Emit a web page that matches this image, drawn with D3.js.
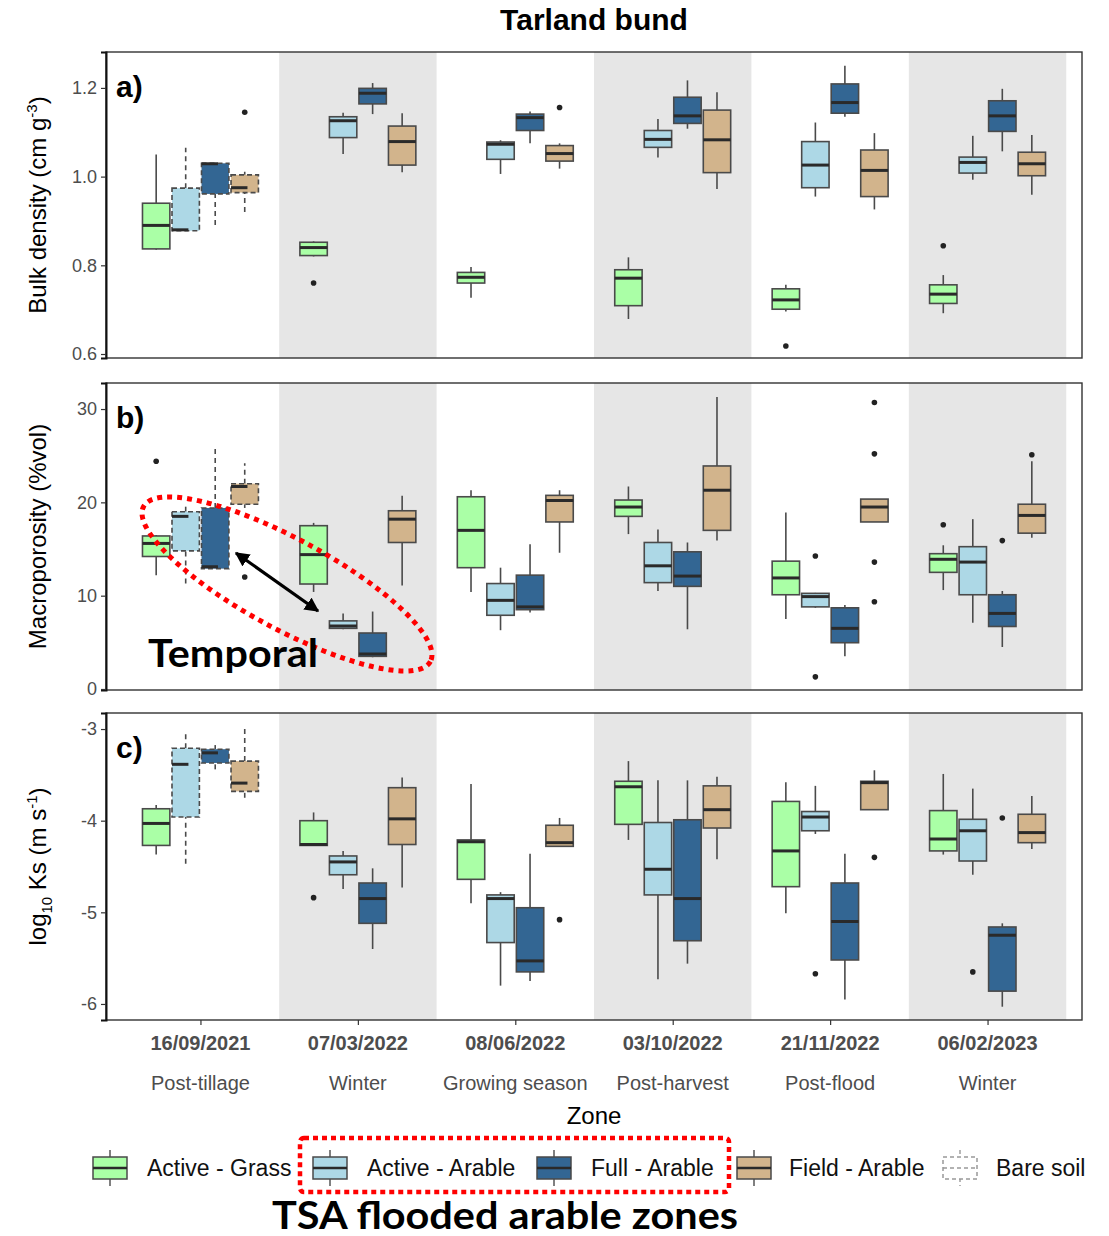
<!DOCTYPE html>
<html>
<head>
<meta charset="utf-8">
<script src="https://cdn.jsdelivr.net/npm/d3@7"></script>
<style>
  body { margin: 0; background: #fff; }
  text { font-family: "Liberation Sans", Arial, sans-serif; }
</style>
</head>
<body>
<svg id="chart"></svg>
<script>
const dates = ['16/09/2021', '07/03/2022', '08/06/2022', '03/10/2022', '21/11/2022', '06/02/2023'];
const seasons = ['Post-tillage', 'Winter', 'Growing season', 'Post-harvest', 'Post-flood', 'Winter'];
const zones = ['Active - Grass', 'Active - Arable', 'Full - Arable', 'Field - Arable'];
const zoneColors = ['#aaffa6', '#add8e6', '#336693', '#d2b48c'];
// [date, zone] samples taken on bare soil, drawn dashed
const bareSoil = [[0, 1], [0, 2], [0, 3]];

// per date, per zone: [lower whisker, Q1, median, Q3, upper whisker]
const bulkDensity = [
  [[0.835, 0.837, 0.890, 0.940, 1.050], [0.878, 0.878, 0.880, 0.974, 1.065], [0.891, 0.961, 1.029, 1.030, 1.030], [0.920, 0.964, 0.975, 1.004, 1.011]],
  [[0.820, 0.822, 0.840, 0.852, 0.854], [1.051, 1.088, 1.126, 1.135, 1.144], [1.141, 1.164, 1.188, 1.199, 1.211], [1.010, 1.026, 1.079, 1.114, 1.143]],
  [[0.727, 0.760, 0.773, 0.784, 0.796], [1.006, 1.039, 1.073, 1.078, 1.082], [1.075, 1.104, 1.133, 1.141, 1.147], [1.018, 1.035, 1.052, 1.070, 1.075]],
  [[0.679, 0.709, 0.771, 0.790, 0.818], [1.043, 1.066, 1.084, 1.104, 1.130], [1.108, 1.120, 1.137, 1.179, 1.217], [0.972, 1.009, 1.083, 1.150, 1.190]],
  [[0.696, 0.701, 0.722, 0.747, 0.756], [0.955, 0.975, 1.026, 1.079, 1.122], [1.135, 1.143, 1.167, 1.209, 1.250], [0.926, 0.955, 1.014, 1.060, 1.098]],
  [[0.692, 0.714, 0.735, 0.756, 0.778], [0.993, 1.008, 1.032, 1.044, 1.092], [1.057, 1.102, 1.137, 1.171, 1.198], [0.959, 1.002, 1.029, 1.055, 1.094]]
];
// [date, zone, value]
const bulkDensityOutliers = [[0, 3, 1.145], [1, 0, 0.760], [2, 3, 1.156], [4, 0, 0.618], [5, 0, 0.844]];

const macroporosity = [
  [[12.2, 14.2, 15.6, 16.4, 16.5], [11.3, 14.8, 18.5, 19.0, 19.7], [12.9, 12.9, 13.1, 19.4, 25.8], [19.4, 19.8, 21.7, 22.0, 24.2]],
  [[10.4, 11.25, 14.4, 17.5, 17.8], [6.4, 6.5, 6.75, 7.3, 8.1], [3.4, 3.5, 3.75, 6.0, 8.3], [11.1, 15.7, 18.2, 19.1, 20.7]],
  [[10.4, 13.0, 17.0, 20.6, 21.3], [6.3, 7.9, 9.5, 11.3, 13.0], [8.2, 8.5, 8.8, 12.2, 15.5], [14.6, 17.9, 20.2, 20.75, 21.3]],
  [[16.6, 18.5, 19.5, 20.25, 21.7], [10.5, 11.4, 13.2, 15.7, 17.1], [6.4, 11.0, 12.1, 14.7, 15.7], [15.9, 17.0, 21.3, 23.9, 31.3]],
  [[7.5, 10.1, 11.9, 13.7, 18.9], [8.7, 8.8, 9.9, 10.25, 10.3], [3.5, 4.96, 6.5, 8.7, 9.0], [17.9, 17.9, 19.5, 20.35, 20.35]],
  [[10.6, 12.5, 13.9, 14.5, 15.4], [7.1, 10.1, 13.6, 15.25, 18.2], [4.5, 6.7, 8.1, 10.1, 10.5], [16.2, 16.7, 18.6, 19.8, 24.4]]
];
const macroporosityOutliers = [
  [0, 0, 24.4], [0, 3, 12.0], [4, 1, 14.25], [4, 1, 1.3], [4, 3, 30.7], [4, 3, 25.2],
  [4, 3, 13.6], [4, 3, 9.35], [5, 0, 17.6], [5, 2, 15.9], [5, 3, 25.1]
];

const logKs = [
  [[-4.37, -4.27, -4.03, -3.87, -3.83], [-4.47, -3.96, -3.385, -3.21, -3.03], [-3.44, -3.37, -3.26, -3.22, -3.175], [-3.75, -3.68, -3.59, -3.35, -2.975]],
  [[-4.27, -4.27, -4.26, -4.00, -3.91], [-4.745, -4.59, -4.45, -4.385, -4.33], [-5.40, -5.12, -4.85, -4.68, -4.52], [-4.73, -4.26, -3.98, -3.64, -3.53]],
  [[-4.90, -4.64, -4.23, -4.21, -3.60], [-5.80, -5.33, -4.85, -4.81, -4.78], [-5.75, -5.65, -5.53, -4.95, -4.36], [-4.28, -4.28, -4.24, -4.05, -3.97]],
  [[-4.21, -4.04, -3.63, -3.57, -3.35], [-5.73, -4.81, -4.53, -4.02, -3.56], [-5.56, -5.31, -4.85, -3.99, -3.56], [-4.42, -4.08, -3.88, -3.62, -3.52]],
  [[-5.01, -4.72, -4.33, -3.79, -3.58], [-4.145, -4.11, -3.96, -3.90, -3.62], [-5.95, -5.52, -5.10, -4.68, -4.36], [-3.88, -3.88, -3.585, -3.57, -3.45]],
  [[-4.37, -4.33, -4.20, -3.89, -3.49], [-4.59, -4.44, -4.11, -3.985, -3.65], [-6.03, -5.86, -5.25, -5.16, -5.12], [-4.31, -4.24, -4.13, -3.93, -3.73]]
];
const logKsOutliers = [[1, 0, -4.84], [2, 3, -5.08], [4, 1, -5.67], [4, 3, -4.40], [5, 1, -5.65], [5, 2, -3.97]];

const bdTicks = [0.6, 0.8, 1.0, 1.2];
const mpTicks = [0, 10, 20, 30];
const ksTicks = [-6, -5, -4, -3];

const W = 1109, H = 1236;
const left = 106, right = 1082;
const hyphenInt = d => String(d); // plain hyphen-minus, as in the original

const panels = [
  { tag: 'a)', stats: bulkDensity, outliers: bulkDensityOutliers, top: 52, bottom: 358, domain: [0.591, 1.281], ticks: bdTicks, fmt: d3.format('.1f') },
  { tag: 'b)', stats: macroporosity, outliers: macroporosityOutliers, top: 383, bottom: 690, domain: [-0.107, 32.79], ticks: mpTicks, fmt: hyphenInt },
  { tag: 'c)', stats: logKs, outliers: logKsOutliers, top: 713, bottom: 1020, domain: [-6.175, -2.825], ticks: ksTicks, fmt: hyphenInt }
];

const svg = d3.select('#chart').attr('width', W).attr('height', H);

const x = d3.scaleLinear().domain([0.4, 6.6]).range([left, right]);
const dodge = [-0.28125, -0.09375, 0.09375, 0.28125];
const halfBox = 0.087;

const boxStroke = '#4a4a4a';

panels.forEach(p => {
  const y = d3.scaleLinear().domain(p.domain).range([p.bottom, p.top]);
  const g = svg.append('g');

  // alternating grey bands
  g.selectAll('rect.band')
    .data(d3.range(dates.length).filter(i => i % 2 === 1))
    .join('rect')
    .attr('x', i => x(i + 0.5))
    .attr('width', i => x(i + 1.5) - x(i + 0.5))
    .attr('y', p.top)
    .attr('height', p.bottom - p.top)
    .attr('fill', '#e6e6e6');

  const rows = [];
  p.stats.forEach((row, di) => row.forEach((s, zi) => rows.push({
    di, zi, s, bare: bareSoil.some(b => b[0] === di && b[1] === zi)
  })));

  const box = g.selectAll('g.box').data(rows).join('g');
  const cx = d => x(d.di + 1 + dodge[d.zi]);

  box.append('line')
    .attr('x1', cx).attr('x2', cx)
    .attr('y1', d => y(d.s[3])).attr('y2', d => y(d.s[4]))
    .attr('stroke', boxStroke).attr('stroke-width', 1.6)
    .attr('stroke-dasharray', d => d.bare ? '5,4' : null);
  box.append('line')
    .attr('x1', cx).attr('x2', cx)
    .attr('y1', d => y(d.s[0])).attr('y2', d => y(d.s[1]))
    .attr('stroke', boxStroke).attr('stroke-width', 1.6)
    .attr('stroke-dasharray', d => d.bare ? '5,4' : null);
  box.append('rect')
    .attr('x', d => x(d.di + 1 + dodge[d.zi] - halfBox))
    .attr('width', x(halfBox * 2) - x(0))
    .attr('y', d => y(d.s[3]))
    .attr('height', d => Math.max(0.5, y(d.s[1]) - y(d.s[3])))
    .attr('fill', d => zoneColors[d.zi])
    .attr('stroke', boxStroke).attr('stroke-width', 1.6)
    .attr('stroke-dasharray', d => d.bare ? '5,3' : null);
  box.append('line')
    .attr('x1', d => x(d.di + 1 + dodge[d.zi] - halfBox))
    .attr('x2', d => x(d.di + 1 + dodge[d.zi] + (d.bare ? 0.2 * halfBox : halfBox)))
    .attr('y1', d => y(d.s[2])).attr('y2', d => y(d.s[2]))
    .attr('stroke', '#2a2a2a').attr('stroke-width', 3);

  g.selectAll('circle.out').data(p.outliers).join('circle')
    .attr('cx', d => x(d[0] + 1 + dodge[d[1]]))
    .attr('cy', d => y(d[2]))
    .attr('r', 2.8)
    .attr('fill', '#222');

  // frame
  g.append('rect')
    .attr('x', left).attr('y', p.top)
    .attr('width', right - left).attr('height', p.bottom - p.top)
    .attr('fill', 'none').attr('stroke', '#333').attr('stroke-width', 1.4);

  const ax = g.append('g')
    .attr('transform', `translate(${left},0)`)
    .call(d3.axisLeft(y).tickValues(p.ticks).tickFormat(p.fmt).tickSize(5).tickPadding(4));
  ax.select('.domain').attr('stroke', '#111').attr('stroke-width', 2);
  ax.selectAll('.tick line').attr('stroke', '#333').attr('stroke-width', 1.2);
  ax.selectAll('.tick text')
    .attr('fill', '#4d4d4d')
    .style('font-size', '18px')
    .style('font-family', '"Liberation Sans", Arial, sans-serif');

  g.append('text')
    .attr('x', 116).attr('y', p.top + 45)
    .attr('font-size', 30).attr('font-weight', 'bold')
    .text(p.tag);
});

// bottom axis ticks
const bottomY = panels[2].bottom;
const bx = svg.append('g')
  .attr('transform', `translate(0,${bottomY})`)
  .call(d3.axisBottom(x).tickValues(d3.range(1, dates.length + 1)).tickFormat('').tickSize(5));
bx.select('.domain').remove();
bx.selectAll('.tick line').attr('stroke', '#333').attr('stroke-width', 1.2);

svg.append('g').selectAll('text').data(dates).join('text')
  .attr('x', (d, i) => x(i + 1)).attr('y', 1050)
  .attr('text-anchor', 'middle').attr('font-size', 20).attr('font-weight', 'bold')
  .attr('fill', '#4d4d4d')
  .text(d => d);

svg.append('g').selectAll('text').data(seasons).join('text')
  .attr('x', (d, i) => x(i + 1)).attr('y', 1090)
  .attr('text-anchor', 'middle').attr('font-size', 20)
  .attr('fill', '#4d4d4d')
  .text(d => d);

svg.append('text')
  .attr('x', (left + right) / 2).attr('y', 1124)
  .attr('text-anchor', 'middle').attr('font-size', 24)
  .text('Zone');

svg.append('text')
  .attr('x', (left + right) / 2).attr('y', 30)
  .attr('text-anchor', 'middle').attr('font-size', 30).attr('font-weight', 'bold')
  .text('Tarland bund');

// y-axis titles
let t = svg.append('text').attr('transform', `translate(46,${(52 + 358) / 2}) rotate(-90)`)
  .attr('text-anchor', 'middle').attr('font-size', 24);
t.append('tspan').text('Bulk density (cm g');
t.append('tspan').text('-3').attr('font-size', 15).attr('dy', -9);
t.append('tspan').text(')').attr('dy', 9);

t = svg.append('text').attr('transform', `translate(46,${(383 + 690) / 2}) rotate(-90)`)
  .attr('text-anchor', 'middle').attr('font-size', 24);
t.append('tspan').text('Macroporosity (%vol)');

t = svg.append('text').attr('transform', `translate(46,${(713 + 1020) / 2}) rotate(-90)`)
  .attr('text-anchor', 'middle').attr('font-size', 24);
t.append('tspan').text('log');
t.append('tspan').text('10').attr('font-size', 15).attr('dy', 6);
t.append('tspan').text(' Ks (m s').attr('dy', -6);
t.append('tspan').text('-1').attr('font-size', 15).attr('dy', -9);
t.append('tspan').text(')').attr('dy', 9);

// legend
const legendItems = zones.map((z, i) => ({ label: z, fill: zoneColors[i], bare: false }))
  .concat([{ label: 'Bare soil', fill: 'none', bare: true }]);
const keyX = [93, 313, 537, 737, 943];
const textX = [147, 367, 591, 789, 996];
const ly = 1168;
const lg = svg.append('g');
legendItems.forEach((it, i) => {
  const kx = keyX[i] + 17;
  const st = it.bare ? '#999' : boxStroke;
  const dash = it.bare ? '4,3' : null;
  lg.append('line').attr('x1', kx).attr('x2', kx).attr('y1', ly - 18).attr('y2', ly + 18)
    .attr('stroke', st).attr('stroke-width', 1.4).attr('stroke-dasharray', dash);
  lg.append('rect').attr('x', keyX[i]).attr('y', ly - 11).attr('width', 34).attr('height', 22)
    .attr('fill', it.bare ? '#fff' : it.fill).attr('stroke', st).attr('stroke-width', 1.5)
    .attr('stroke-dasharray', dash);
  lg.append('line').attr('x1', keyX[i]).attr('x2', keyX[i] + 34).attr('y1', ly).attr('y2', ly)
    .attr('stroke', it.bare ? '#999' : '#2a2a2a').attr('stroke-width', it.bare ? 1.4 : 2.6)
    .attr('stroke-dasharray', dash);
  lg.append('text').attr('x', textX[i]).attr('y', ly + 8).attr('font-size', 23).attr('fill', '#111')
    .text(it.label);
});

// annotations
svg.append('rect')
  .attr('x', 300).attr('y', 1138).attr('width', 429).attr('height', 54).attr('rx', 4)
  .attr('fill', 'none').attr('stroke', '#ff0000').attr('stroke-width', 4.5).attr('stroke-dasharray', '5,4');

svg.append('text')
  .attr('x', 272).attr('y', 1229)
  .style('font-family', 'Lato, "Open Sans", sans-serif')
  .attr('font-size', 38).attr('font-weight', 'bold').attr('fill', '#000')
  .attr('textLength', 466).attr('lengthAdjust', 'spacingAndGlyphs')
  .text('TSA flooded arable zones');

const defs = svg.append('defs');
defs.append('marker').attr('id', 'ah').attr('viewBox', '0 0 10 10')
  .attr('refX', 9).attr('refY', 5).attr('markerWidth', 4.5).attr('markerHeight', 4.5)
  .attr('orient', 'auto-start-reverse')
  .append('path').attr('d', 'M0,0 L10,5 L0,10 z').attr('fill', '#000');

svg.append('line')
  .attr('x1', 236).attr('y1', 553).attr('x2', 318).attr('y2', 611)
  .attr('stroke', '#000').attr('stroke-width', 3.2)
  .attr('marker-start', 'url(#ah)').attr('marker-end', 'url(#ah)');

svg.append('ellipse')
  .attr('cx', 287).attr('cy', 584).attr('rx', 163).attr('ry', 45)
  .attr('transform', 'rotate(28.4,287,584)')
  .attr('fill', 'none').attr('stroke', '#ff0000').attr('stroke-width', 5).attr('stroke-dasharray', '5,5');

svg.append('text')
  .attr('x', 148).attr('y', 667)
  .style('font-family', 'Lato, "Open Sans", sans-serif')
  .attr('font-size', 39).attr('font-weight', 'bold').attr('fill', '#000')
  .attr('textLength', 170).attr('lengthAdjust', 'spacingAndGlyphs')
  .text('Temporal');
</script>
</body>
</html>
